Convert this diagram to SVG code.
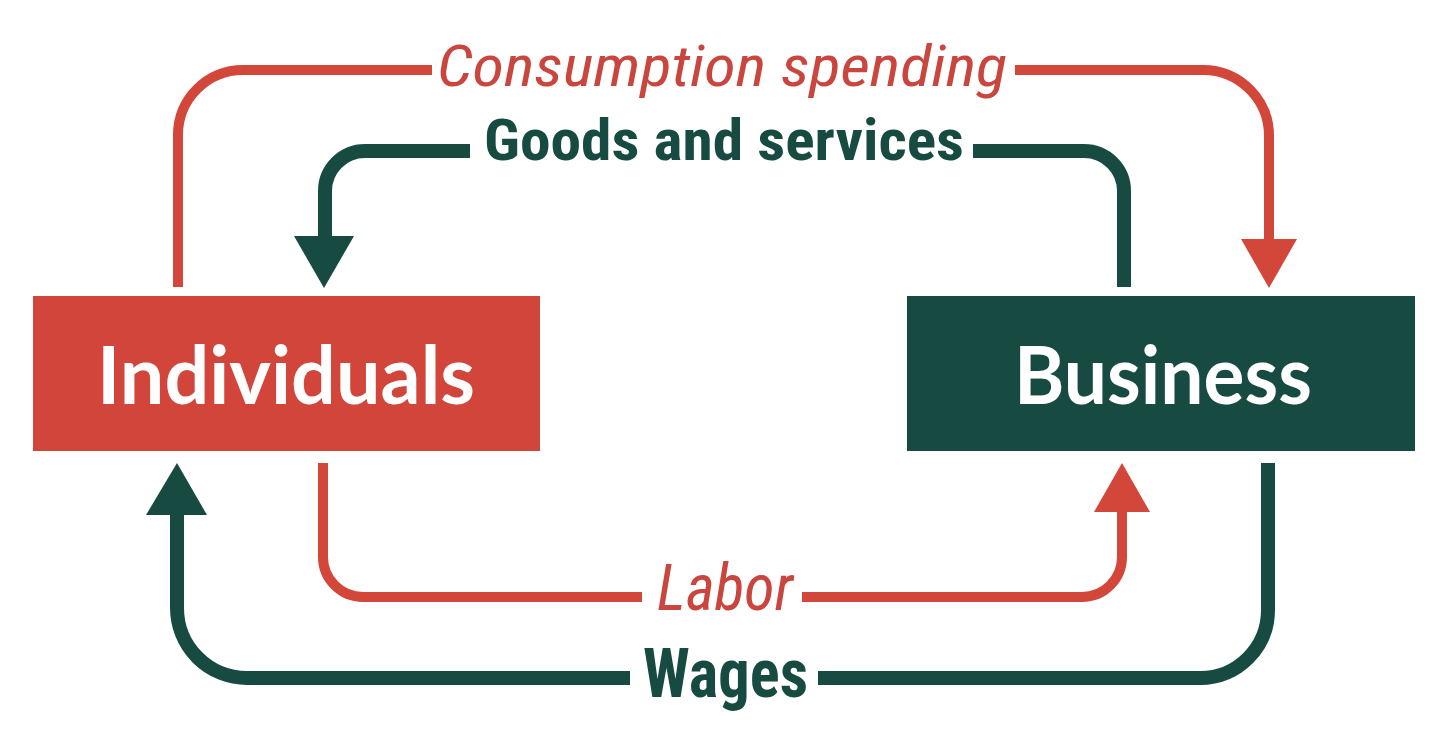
<svg xmlns="http://www.w3.org/2000/svg" width="1440" height="740" viewBox="0 0 1440 740">
<style>
  .red { stroke: #D3473B; }
  .green { stroke: #174B42; }
  .line { fill: none; stroke-linecap: butt; }
  .thin { stroke-width: 10; }
  .thick { stroke-width: 14; }
  .headr { fill: #D3473B; }
  .headg { fill: #174B42; }
  .lbl { font-family: "Liberation Sans Narrow", "Roboto Condensed", "Liberation Sans", Arial, sans-serif; }
  .it { font-style: italic; fill: #C9453D; }
  .bd { font-weight: bold; fill: #174B42; }
  .box { font-family: Lato, "Liberation Sans", Arial, sans-serif; font-weight: bold; fill: #FFFFFF; font-size: 80px; }
</style>
<rect width="1440" height="740" fill="#FFFFFF"/>
<g id="connectors">
  <path class="line red thin" d="M178,287 V135 A65,65 0 0 1 243,70 H432"/>
  <path class="line red thin" d="M1015,70 H1203 A66,66 0 0 1 1269,136 V242"/>
  <polygon class="headr" points="1241,239 1297,239 1269,288"/>
  <path class="line green thick" d="M470,151 H365 A40,40 0 0 0 325,191 V238"/>
  <polygon class="headg" points="294,236 354,236 324,288"/>
  <path class="line green thick" d="M973,151 H1084 A40,40 0 0 1 1124,191 V287"/>
  <path class="line red thin" d="M323,463 V557 A40,40 0 0 0 363,597 H642"/>
  <path class="line red thin" d="M802,597 H1082 A40,40 0 0 0 1122,557 V510"/>
  <polygon class="headr" points="1094,512 1150,512 1122,463"/>
  <path class="line green thick" d="M1268,463 V610 A68,68 0 0 1 1200,678 H818"/>
  <path class="line green thick" d="M630,678 H247 A70,70 0 0 1 177,608 V513"/>
  <polygon class="headg" points="146,515 207,515 177,463"/>
  <text class="lbl it" x="437" y="86" font-size="57" textLength="570" lengthAdjust="spacingAndGlyphs">Consumption spending</text>
  <text class="lbl bd" x="484" y="160" font-size="57" textLength="480" lengthAdjust="spacingAndGlyphs">Goods and services</text>
  <text class="lbl it" x="657" y="610" font-size="65" textLength="136" lengthAdjust="spacingAndGlyphs">Labor</text>
  <text class="lbl bd" x="643" y="697" font-size="69" textLength="165" lengthAdjust="spacingAndGlyphs">Wages</text>
</g>
<g id="individuals">
  <rect x="33" y="296" width="507" height="155" fill="#D2453A"/>
  <text class="box" x="286" y="404" text-anchor="middle" textLength="378" lengthAdjust="spacingAndGlyphs">Individuals</text>
</g>
<g id="business">
  <rect x="907" y="296" width="508" height="155" fill="#174B42"/>
  <text class="box" x="1163" y="404" text-anchor="middle" textLength="298" lengthAdjust="spacingAndGlyphs">Business</text>
</g>
</svg>
